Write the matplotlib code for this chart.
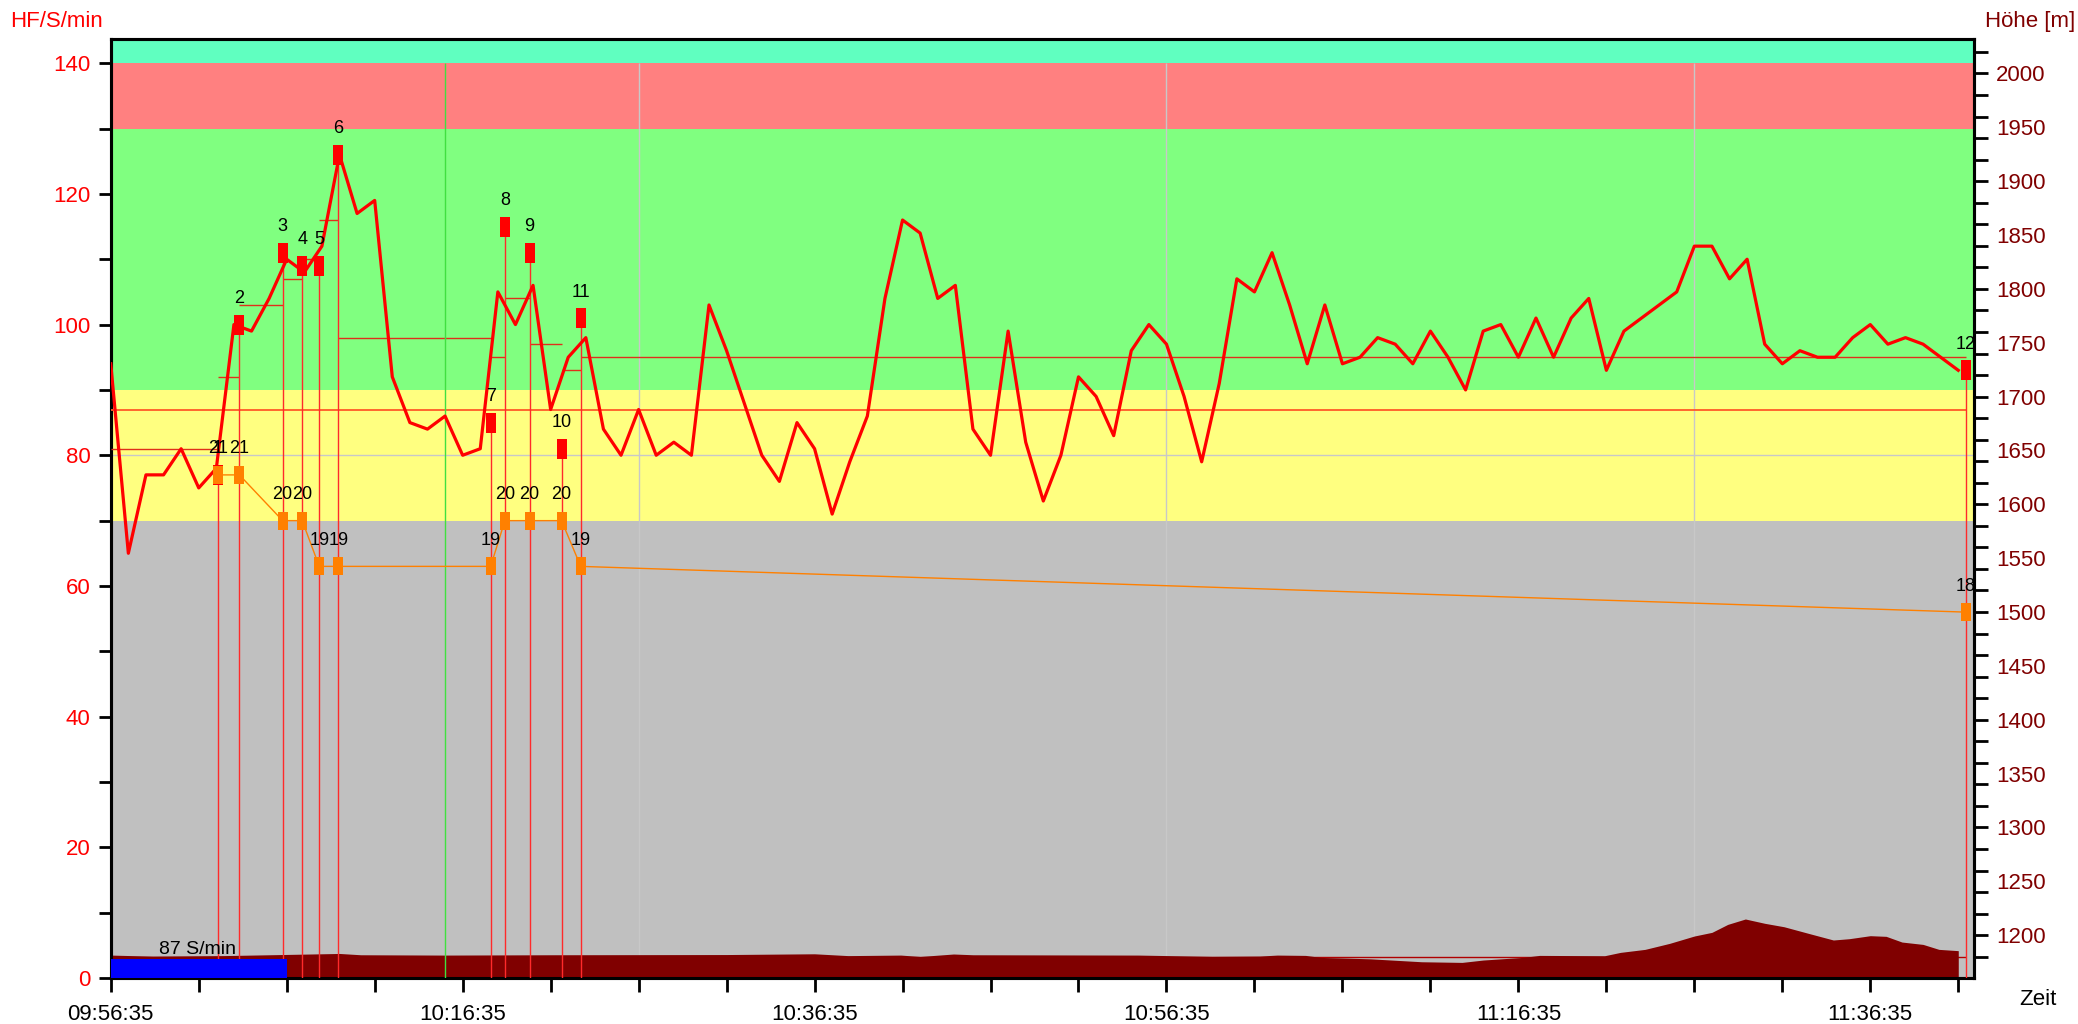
import matplotlib
matplotlib.use("Agg")
import matplotlib.pyplot as plt
import numpy as np
from matplotlib.ticker import MultipleLocator

plt.rcParams['font.family'] = ['Liberation Sans', 'DejaVu Sans']

# Herzfrequenz, eine Probe pro Minute ab 09:56:35
hf_min = list(range(0, 106))
hf_bpm = [94, 65, 77, 77, 81, 75, 78, 100, 99, 104,
          110, 108, 112, 126, 117, 119, 92, 85, 84, 86,
          80, 81, 105, 100, 106, 87, 95, 98, 84, 80,
          87, 80, 82, 80, 103, 96, 88, 80, 76, 85,
          81, 71, 79, 86, 104, 116, 114, 104, 106, 84,
          80, 99, 82, 73, 80, 92, 89, 83, 96, 100,
          97, 89, 79, 91, 107, 105, 111, 103, 94, 103,
          94, 95, 98, 97, 94, 99, 95, 90, 99, 100,
          95, 101, 95, 101, 104, 93, 99, 101, 103, 105,
          112, 112, 107, 110, 97, 94, 96, 95, 95, 98,
          100, 97, 98, 97, 95, 93]
hf_avg = 87

# Runden (Zeit in Minuten seit Start)
lap_nr = [1, 2, 3, 4, 5, 6, 7, 8, 9, 10, 11, 12]
lap_min = [6.09, 7.31, 9.77, 10.88, 11.85, 12.94, 21.59, 22.40, 23.80, 25.62, 26.71, 105.43]
lap_hf = [77, 100, 111, 109, 109, 126, 85, 115, 111, 81, 101, 93]
lap_avg = [81, 92, 103, 107, 110, 116, 98, 95, 104, 97, 93, 95]
lap_temp = [21, 21, 20, 20, 19, 19, 19, 20, 20, 20, 19, 18]

# Hoehenprofil
alt_min = [0, 2.4, 6.4, 9.7, 13, 14.2, 19, 25, 35, 40,
           41.9, 44.9, 46, 47.9, 49, 58.4, 62.6, 65.3, 66.3, 67.9,
           68.8, 70, 71.6, 74.5, 76.8, 78, 80.3, 81.2, 84.9, 85.8,
           87.2, 88.6, 90, 91, 91.9, 92.9, 94, 95.1, 96.5, 97.9,
           98.8, 100, 100.9, 101.8, 103, 103.9, 105]
alt_m = [1181.5, 1180.5, 1181, 1182, 1183, 1181.8, 1181.5, 1181.8, 1182, 1182.7,
         1181, 1181.5, 1180.2, 1182.5, 1181.8, 1181.5, 1180.3, 1180.6, 1181.5, 1181.2,
         1179.3, 1178.8, 1178, 1175.3, 1174.7, 1176.9, 1179.4, 1181.2, 1180.9, 1184,
         1186.8, 1192.4, 1199.2, 1202.6, 1210, 1215, 1211, 1207.8, 1201.6, 1195.5,
         1196.7, 1199.5, 1198.9, 1193.6, 1191.4, 1186.8, 1185.6]
alt_avg = 1180

# Trainingszonen
zone_lo = [0, 70, 90, 130, 140]
zone_hi = [70, 90, 130, 140, 150]
zone_colors = ['#c0c0c0', '#ffff80', '#80ff80', '#ff8080', '#60ffc0']

cad_text = '87 S/min'
cad_bar_min = 10
cad_bar_h = 2.9
mark_min = 19
grid_min = [30, 60, 90]

time_ticks = [0, 20, 40, 60, 80, 100]
time_labels = ['09:56:35', '10:16:35', '10:36:35', '10:56:35', '11:16:35', '11:36:35']

rect = [(-0.26, -0.5), (0.26, -0.5), (0.26, 0.5), (-0.26, 0.5), (-0.26, -0.5)]

fig = plt.figure(figsize=(20.78, 10.24), dpi=100)
ax = fig.add_axes([0.0533, 0.0449, 0.8967, 0.917])
ax_alt = ax.twinx()
ax_hf = ax.twinx()
ax_tmp = ax.twinx()

# Hintergrund
for lo, hi, c in zip(zone_lo, zone_hi, zone_colors):
    ax.axhspan(lo, hi, color=c, lw=0, zorder=0)
ax.vlines(grid_min, 0, 140, colors='#c8c8c8', lw=1, zorder=1)
ax.axhline(80, color='#c8c8c8', lw=1, zorder=1)

# Hoehe
ax_alt.hlines(alt_avg, 0, lap_min[-1], colors='#b00000', lw=1, zorder=1)
ax_alt.fill_between(alt_min, 1100, alt_m, color='#800000', lw=0, zorder=2)

# Herzfrequenz und Runden
starts = [0] + lap_min[:-1]
ax_hf.hlines(hf_avg, 0, lap_min[-1], colors='#ff5a28', lw=1.3, zorder=2)
ax_hf.hlines(lap_avg, starts, lap_min, colors='#e0301a', lw=1, zorder=2)
ax_hf.vlines(lap_min, 0, lap_hf, colors='#ff2a2a', lw=1, zorder=2)
ax_hf.vlines(mark_min, 0, 140, colors='#40e040', lw=1, zorder=2)
ax_hf.plot(hf_min, hf_bpm, color='#ff0000', lw=2.3, zorder=3)
ax_hf.plot(lap_min, lap_hf, ls='none', marker=rect, ms=15, mew=0, color='#ff0000', zorder=4)
for n, t, v in zip(lap_nr, lap_min, lap_hf):
    ax_hf.annotate(str(n), (t, v), xytext=(0, 15.5), textcoords='offset points',
                   ha='center', va='baseline', fontsize=13, zorder=6, clip_on=True)
ax_hf.bar(0, cad_bar_h, width=cad_bar_min, align='edge', color='#0000ff', lw=0, zorder=5)
ax_hf.text(4.95, 3.6, cad_text, ha='center', va='baseline', fontsize=14, zorder=6)

# Temperatur
ax_tmp.plot(lap_min, lap_temp, color='#ff8000', lw=1, marker=rect, ms=13.3, mew=0)
for t, v in zip(lap_min, lap_temp):
    ax_tmp.annotate(str(v), (t, v), xytext=(0, 15.5), textcoords='offset points',
                    ha='center', va='baseline', fontsize=13, clip_on=True)

ax.set_xlim(0, 105.9)
ax.set_ylim(0, 143.7)
ax_hf.set_ylim(0, 143.7)
ax_alt.set_ylim(1160.2, 2032)
ax_tmp.set_ylim(10, 30.53)

ax.set_xticks(time_ticks, time_labels)
ax.xaxis.set_minor_locator(MultipleLocator(5))
ax.tick_params(axis='x', which='both', length=10, width=2, pad=9, labelsize=16)
ax.set_yticks(range(0, 141, 20))
ax.yaxis.set_minor_locator(MultipleLocator(10))
ax.tick_params(axis='y', which='both', length=9, width=2, pad=5.5, labelsize=16, labelcolor='#ff0000')

ax_alt.set_yticks(range(1200, 2001, 50))
ax_alt.yaxis.set_minor_locator(MultipleLocator(20))
ax_alt.yaxis.remove_overlapping_locs = False
ax_alt.tick_params(axis='y', which='major', length=0, pad=16, labelsize=16, labelcolor='#800000')
ax_alt.tick_params(axis='y', which='minor', length=10, width=2)

for a in (ax, ax_alt):
    for s in a.spines.values():
        s.set_linewidth(2.2)
        s.set_color('black')
for a in (ax_hf, ax_tmp):
    a.yaxis.set_visible(False)
    for s in a.spines.values():
        s.set_visible(False)

fig.text(10 / 2078, 1 - 27 / 1024, 'HF/S/min', color='#ff0000', fontsize=16, ha='left', va='baseline')
fig.text(2075 / 2078, 1 - 27 / 1024, 'Höhe [m]', color='#800000', fontsize=16, ha='right', va='baseline')
fig.text(2019 / 2078, 1 - 1005 / 1024, 'Zeit', fontsize=16, ha='left', va='baseline')

fig.savefig('out.png', dpi=100)
